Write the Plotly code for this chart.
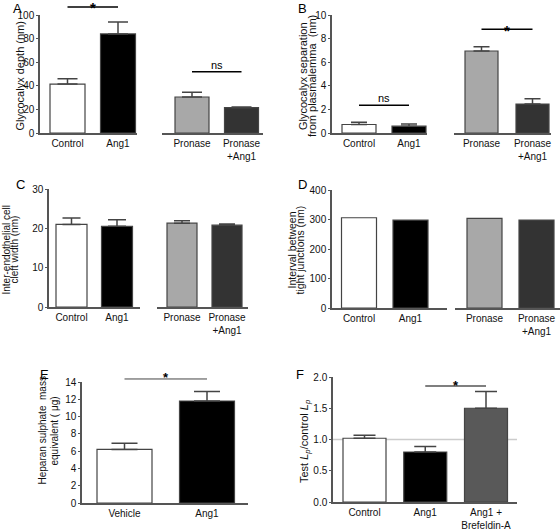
import plotly.graph_objects as go

W, H = 560, 531

# ---------------- data ----------------
# Panel A: glycocalyx depth (nm)
a_cats_left = ["Control", "Ang1"]
a_cats_right = ["Pronase", "Pronase<br>+Ang1"]
a_mean_left = [41.5, 84.0]
a_err_left = [4.5, 10.0]
a_mean_right = [30.5, 21.5]
a_err_right = [4.0, 0.6]

# Panel B: glycocalyx separation from plasmalemma (nm)
b_cats_left = ["Control", "Ang1"]
b_cats_right = ["Pronase", "Pronase<br>+Ang1"]
b_mean_left = [0.72, 0.58]
b_err_left = [0.2, 0.18]
b_mean_right = [6.95, 2.45]
b_err_right = [0.35, 0.45]

# Panel C: inter-endothelial cell cleft width (nm)
c_cats_left = ["Control", "Ang1"]
c_cats_right = ["Pronase", "Pronase<br>+Ang1"]
c_mean_left = [21.0, 20.5]
c_err_left = [1.6, 1.7]
c_mean_right = [21.3, 20.8]
c_err_right = [0.6, 0.3]

# Panel D: interval between tight junctions (nm)
d_cats_left = ["Control", "Ang1"]
d_cats_right = ["Pronase", "Pronase<br>+Ang1"]
d_mean_left = [306, 298]
d_mean_right = [304, 298]

# Panel E: heparan sulphate mass equivalent (ug)
e_cats = ["Vehicle", "Ang1"]
e_mean = [6.2, 11.8]
e_err = [0.7, 1.1]

# Panel F: test Lp / control Lp
f_cats = ["Control", "Ang1", "Ang1 +<br>Brefeldin-A"]
f_mean = [1.02, 0.80, 1.50]
f_err = [0.05, 0.09, 0.27]
f_ref = 1.0

# significance markers (value level)
a_sig_star = 106.8
a_sig_ns = 52
b_sig_ns = 2.35
b_sig_star = 8.8
e_sig_star = 14.35
f_sig_star = 1.856

# axis titles (one entry per line)
a_title = ["Glycocalyx depth (nm)"]
b_title = ["Glycocalyx separation", "from plasmalemma  (nm)"]
c_title = ["Inter-endothelial cell", "cleft width (nm)"]
d_title = ["Interval between", "tight junctions (nm)"]
e_title = ["Heparan sulphate  mass", "equivalent ( \u03bcg)"]
f_title = ["Test <i>L<sub>p</sub></i>/control <i>L<sub>p</sub></i>"]

# ---------------- style ----------------
FONT = "Liberation Sans, Arial, Helvetica, sans-serif"
AXC = "#555555"
EDGE = "#444444"
WHITE, BLACK, LGRAY, DGRAY, MGRAY = "#ffffff", "#000000", "#a8a8a8", "#333333", "#595959"

fig = go.Figure()
layout = dict(width=W, height=H, margin=dict(l=0, r=0, t=0, b=0, autoexpand=False),
              paper_bgcolor="white", plot_bgcolor="rgba(0,0,0,0)",
              showlegend=False, font=dict(family=FONT, color="#111111"))
shapes, annotations = [], []


def cat_axis(d0, d1, c0, c1, n, anchor, cats):
    scale = (c1 - c0) / (n - 1)
    r0 = -(c0 - d0) / scale
    r1 = r0 + (d1 - d0) / scale
    ax = dict(domain=[d0 / W, d1 / W], range=[r0, r1], anchor=anchor,
              type="category", categoryorder="array", categoryarray=cats,
              showline=True, linecolor=AXC, linewidth=1.5, ticks="",
              showgrid=False, zeroline=False, fixedrange=True, automargin=False,
              tickfont=dict(size=10, family=FONT, color="#111111"))
    return ax, scale


def val_axis(t0, t1, rng, dtick, anchor, fmt=None):
    ax = dict(domain=[1 - t1 / H, 1 - t0 / H], range=rng, anchor=anchor,
              dtick=dtick, tick0=0, showline=True, linecolor=AXC, linewidth=1.5,
              ticks="outside", ticklen=2, tickwidth=1, tickcolor=AXC,
              showgrid=False, zeroline=False, fixedrange=True, automargin=False,
              tickfont=dict(size=10, family=FONT, color="#111111"))
    if fmt:
        ax["tickformat"] = fmt
    return ax


def ytitle(lines, xs, yc, size):
    for t, x in zip(lines, xs):
        annotations.append(dict(xref="paper", yref="paper", x=x / W, y=1 - yc / H,
                                text=t, textangle=-90, showarrow=False,
                                xanchor="center", yanchor="middle", borderpad=0,
                                font=dict(size=size, family=FONT, color="#111111")))


def bars(xid, yid, cats, vals, colors, width, err=None, cap=8):
    tr = go.Bar(x=cats, y=vals, xaxis=xid, yaxis=yid, width=width,
                marker=dict(color=colors, line=dict(color=EDGE, width=1.2)),
                hoverinfo="skip")
    if err is not None:
        tr.error_y = dict(type="data", array=err, arrayminus=[0] * len(err),
                          symmetric=False, color=EDGE, thickness=1.5, width=cap)
    fig.add_trace(tr)


def sig(xid, yid, ymax, i0, i1, val, label, color="#000000", lw=1.5, size=11,
        bold=False, yshift=0, anchor="bottom"):
    shapes.append(dict(type="line", xref=xid, yref=yid + " domain",
                       x0=i0, x1=i1, y0=val / ymax, y1=val / ymax,
                       line=dict(color=color, width=lw)))
    annotations.append(dict(xref=xid, yref=yid + " domain", x=(i0 + i1) / 2,
                            y=val / ymax, text=("<b>%s</b>" % label) if bold else label,
                            showarrow=False, yanchor=anchor, yshift=yshift,
                            font=dict(size=size, family=FONT, color="#000000")))


def letter(px, py, t):
    annotations.append(dict(xref="paper", yref="paper", x=px / W, y=1 - py / H,
                            text=t, showarrow=False, xanchor="left", yanchor="top",
                            borderpad=0,
                            font=dict(size=13, family=FONT, color="#000000")))


# ---------------- Panel A ----------------
ax, s = cat_axis(40, 137, 67.5, 118, 2, "y", a_cats_left); layout["xaxis"] = ax
bars("x", "y", a_cats_left, a_mean_left, [WHITE, BLACK], 35 / s, a_err_left, 10)
ax, s = cat_axis(162, 263, 192, 241.5, 2, "y", a_cats_right); layout["xaxis2"] = ax
bars("x2", "y", a_cats_right, a_mean_right, [LGRAY, DGRAY], 34 / s, a_err_right, 10)
layout["yaxis"] = val_axis(15, 133, [0, 100], 20, "x")
ytitle(a_title, [19.5], 76, 11)
sig("x", "y", 100, 0, 1, a_sig_star, "*", size=15, bold=True, yshift=-1, anchor="middle")
sig("x2", "y", 100, 0, 1, a_sig_ns, "ns", size=11, yshift=-1)

# ---------------- Panel B ----------------
ax, s = cat_axis(332, 427, 359, 409, 2, "y2", b_cats_left); layout["xaxis3"] = ax
bars("x3", "y2", b_cats_left, b_mean_left, [WHITE, BLACK], 34 / s, b_err_left, 8)
ax, s = cat_axis(454, 551, 481.5, 532.5, 2, "y2", b_cats_right); layout["xaxis4"] = ax
bars("x4", "y2", b_cats_right, b_mean_right, [LGRAY, DGRAY], 33 / s, b_err_right, 8)
layout["yaxis2"] = val_axis(15, 133, [0, 10], 2, "x3")
ytitle(b_title, [303, 312], 76, 11)
sig("x3", "y2", 10, 0, 1, b_sig_ns, "ns", size=11, yshift=-1)
sig("x4", "y2", 10, 0, 1, b_sig_star, "*", size=15, bold=True, yshift=-1, anchor="middle")

# ---------------- Panel C ----------------
ax, s = cat_axis(49, 140, 71.5, 117, 2, "y3", c_cats_left); layout["xaxis5"] = ax
bars("x5", "y3", c_cats_left, c_mean_left, [WHITE, BLACK], 31 / s, c_err_left, 9)
ax, s = cat_axis(157, 248, 182, 227, 2, "y3", c_cats_right); layout["xaxis6"] = ax
bars("x6", "y3", c_cats_right, c_mean_right, [LGRAY, DGRAY], 30 / s, c_err_right, 8)
layout["yaxis3"] = val_axis(189, 307, [0, 30], 10, "x5")
ytitle(c_title, [5.5, 13.5], 250, 10)

# ---------------- Panel D ----------------
ax, s = cat_axis(332, 447, 359, 410.5, 2, "y4", d_cats_left); layout["xaxis7"] = ax
bars("x7", "y4", d_cats_left, d_mean_left, [WHITE, BLACK], 35 / s)
ax, s = cat_axis(455, 560, 484.5, 536.5, 2, "y4", d_cats_right); layout["xaxis8"] = ax
bars("x8", "y4", d_cats_right, d_mean_right, [LGRAY, DGRAY], 35 / s)
layout["yaxis4"] = val_axis(190, 308, [0, 400], 100, "x7")
ytitle(d_title, [291.5, 299.5], 250, 10.5)

# ---------------- Panel E ----------------
ax, s = cat_axis(82, 248, 124.5, 207, 2, "y5", e_cats); layout["xaxis9"] = ax
bars("x9", "y5", e_cats, e_mean, [WHITE, BLACK], 55 / s, e_err, 13)
layout["yaxis5"] = val_axis(382, 503, [0, 14], 2, "x9")
ytitle(e_title, [41.5, 53.5], 431, 10)
sig("x9", "y5", 14, 0, 1, e_sig_star, "*", color="#444444", lw=1, size=13, bold=True,
    yshift=1, anchor="middle")

# ---------------- Panel F ----------------
ax, s = cat_axis(333, 517, 364.5, 486, 3, "y6", f_cats); layout["xaxis10"] = ax
shapes.append(dict(type="line", xref="x10 domain", yref="y6", x0=0, x1=1,
                   y0=f_ref, y1=f_ref, layer="below",
                   line=dict(color="#cccccc", width=1.5)))
bars("x10", "y6", f_cats, f_mean, [WHITE, BLACK, MGRAY], 43 / s, f_err, 11)
layout["yaxis6"] = val_axis(377, 502, [0, 2], 0.5, "x10", fmt=".1f")
ytitle(f_title, [305], 441, 11)
sig("x10", "y6", 2, 1, 2, f_sig_star, "*", color="#555555", lw=1.5, size=13, bold=True,
    yshift=1, anchor="middle")

# ---------------- letters ----------------
letter(12, 0, "A")
letter(297, 0, "B")
letter(15, 176, "C")
letter(297, 176, "D")
letter(39, 366, "E")
letter(295, 366, "F")

layout["shapes"] = shapes
layout["annotations"] = annotations
fig.update_layout(**layout)
fig.write_html("out.html", config={"displayModeBar": False},
               post_script="document.body.style.margin='0px';document.body.style.padding='0px';")
